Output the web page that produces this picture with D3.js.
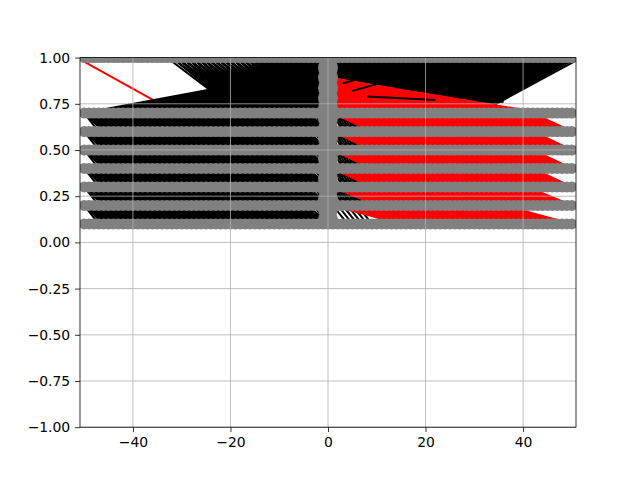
<!DOCTYPE html>
<html lang="en">
<head>
<meta charset="utf-8">
<title>Links</title>
<script src="https://d3js.org/d3.v7.min.js"></script>
<style>
  body, html { margin: 0; padding: 0; background: white; }
  svg { display: block; }
  .tick text { font-family: "DejaVu Sans", sans-serif; font-size: 13.9px; fill: black; }
  .grid line { stroke: #b0b0b0; stroke-width: 0.8px; }
</style>
</head>
<body>
<svg id="chart" width="640" height="480"></svg>
<script>
// grey node rows, x positions shared by every row
var rowX = [-50, -49, -48, -47, -46, -45, -44, -43, -42, -41, -40, -39, -38, -37, -36, -35, -34,
    -33, -32, -31, -30, -29, -28, -27, -26, -25, -24, -23, -22, -21, -20, -19, -18, -17, -16, -15,
    -14, -13, -12, -11, -10, -9, -8, -7, -6, -5, -4, -3, -2, -1, 0, 1, 2, 3, 4, 5, 6, 7, 8, 9, 10,
    11, 12, 13, 14, 15, 16, 17, 18, 19, 20, 21, 22, 23, 24, 25, 26, 27, 28, 29, 30, 31, 32, 33, 34,
    35, 36, 37, 38, 39, 40, 41, 42, 43, 44, 45, 46, 47, 48, 49, 50];
var rowY = [0.1, 0.2, 0.3, 0.4, 0.5, 0.6, 0.7, 1.0];
// big nodes stacked on x = 0
var columnX = 0;
var columnY = [0.125, 0.18, 0.234, 0.289, 0.344, 0.398, 0.453, 0.508, 0.563, 0.617, 0.672,
    0.727, 0.781, 0.836, 0.891, 0.945, 1.0];

// links between neighbouring rows (upper-row x -> lower-row x + offset)
var bands = [[0.1, 0.2], [0.2, 0.3], [0.3, 0.4], [0.4, 0.5], [0.5, 0.6], [0.6, 0.7]];
var leftSpan = [-50, -3];
var leftOffsets = [3, 4, 5, 6];
var rightBlackSpan = [[1, 6], [1, 8], [1, 8], [1, 8], [1, 8], [1, 8]];
var rightBlackOffsets = [[3], [1, 2, 3], [1, 2, 3], [1, 2, 3], [1, 2, 3], [1, 2, 3]];
var rightRedSpan = [1, 50];
var rightRedOffsets = [[14, 15, 16, 17, 18], [9, 10, 11, 12], [8, 9, 10, 11, 12],
    [8, 9, 10, 11, 12], [8, 9, 10, 11, 12], [8, 9, 10, 11, 12]];

// links in the top band (row 0.7 <-> row 1.0 and the x = 0 column)
var topFanY = [0.781, 0.836, 0.891, 0.945];
var topFanSpan = [-50, -1];
var topRiseSpan = [-30, 31];
var topRiseOffsets = [17, 18, 19, 20, 21];
var topBackSpan = [-18, 0];
var topBackOffsets = [13, 14, 15];
var topRedY = [0.727, 0.781, 0.836, 0.891];
var topRedSpan = [3, 44];
var topStripes = [[3, 0.86, 12, 0.93], [5, 0.82, 16, 0.9], [14, 0.84, 28, 0.79],
    [18, 0.87, 30, 0.82], [8, 0.79, 22, 0.77], [24, 0.8, 36, 0.76]];
var strayRed = [[-51.5, 1.0, -31, 0.7]];

var xTicks = [-40, -20, 0, 20, 40];
var yTicks = [-1, -0.75, -0.5, -0.25, 0, 0.25, 0.5, 0.75, 1];

var padLeft = 80, padTop = 57.6, plotW = 496, plotH = 369.6;
var svg = d3.select("#chart");

var x = d3.scaleLinear().domain([-50.85, 50.85]).range([padLeft, padLeft + plotW]);
var y = d3.scaleLinear().domain([-1, 1]).range([padTop + plotH, padTop]);

svg.append("defs").append("clipPath").attr("id", "plot")
    .append("rect")
    .attr("x", padLeft).attr("y", padTop)
    .attr("width", plotW).attr("height", plotH);

function inSpan(span) {
    return rowX.filter(function(v) { return v >= span[0] && v <= span[1]; });
}

// build the segment lists
var blackLinks = [], redLinks = [], overLinks = [];

bands.forEach(function(b, i) {
    inSpan(leftSpan).forEach(function(x0) {
        leftOffsets.forEach(function(d) {
            if (x0 + d <= 0) blackLinks.push([x0, b[1], x0 + d, b[0]]);
        });
    });
    inSpan(rightBlackSpan[i]).forEach(function(x0) {
        rightBlackOffsets[i].forEach(function(d) {
            blackLinks.push([x0, b[1], x0 + d, b[0]]);
        });
    });
    inSpan(rightRedSpan).forEach(function(x0) {
        rightRedOffsets[i].forEach(function(d) {
            if (x0 + d <= 50) redLinks.push([x0, b[1], x0 + d, b[0]]);
        });
    });
});

var topLow = rowY[6], topHigh = rowY[7];
topFanY.forEach(function(cy) {
    inSpan(topFanSpan).forEach(function(x0) {
        blackLinks.push([columnX, cy, x0, topLow]);
    });
});
inSpan(topRiseSpan).forEach(function(x0) {
    topRiseOffsets.forEach(function(d) {
        blackLinks.push([x0, topLow, x0 + d, topHigh]);
    });
});
inSpan(topBackSpan).forEach(function(x0) {
    topBackOffsets.forEach(function(d) {
        blackLinks.push([x0, topLow, x0 - d, topHigh]);
    });
});
topRedY.forEach(function(cy) {
    inSpan(topRedSpan).forEach(function(x0) {
        redLinks.push([columnX, cy, x0, topLow]);
    });
});
topStripes.forEach(function(s) { overLinks.push(s); });

var plot = svg.append("g").attr("clip-path", "url(#plot)");

function drawLinks(data, colour) {
    plot.append("g")
        .selectAll("line")
        .data(data)
        .enter()
        .append("line")
        .attr("x1", function(d) { return x(d[0]); })
        .attr("y1", function(d) { return y(d[1]); })
        .attr("x2", function(d) { return x(d[2]); })
        .attr("y2", function(d) { return y(d[3]); })
        .attr("stroke", colour)
        .attr("stroke-width", 2);
}

drawLinks(strayRed, "#ff0000");
drawLinks(blackLinks, "#000000");
drawLinks(redLinks, "#ff0000");
drawLinks(overLinks, "#000000");

// grey nodes
var nodes = [];
rowY.forEach(function(ry) {
    rowX.forEach(function(rx) { nodes.push([rx, ry]); });
});
plot.append("g")
    .selectAll("circle")
    .data(nodes)
    .enter()
    .append("circle")
    .attr("cx", function(d) { return x(d[0]); })
    .attr("cy", function(d) { return y(d[1]); })
    .attr("r", 5.5)
    .attr("fill", "#808080");

plot.append("g")
    .selectAll("circle")
    .data(columnY)
    .enter()
    .append("circle")
    .attr("cx", x(columnX))
    .attr("cy", function(d) { return y(d); })
    .attr("r", 10)
    .attr("fill", "#808080");

// grid on top, like the reference
var grid = svg.append("g").attr("class", "grid");
grid.selectAll("line.v")
    .data(xTicks)
    .enter()
    .append("line")
    .attr("class", "v")
    .attr("x1", function(d) { return x(d); })
    .attr("x2", function(d) { return x(d); })
    .attr("y1", padTop)
    .attr("y2", padTop + plotH);
grid.selectAll("line.h")
    .data(yTicks)
    .enter()
    .append("line")
    .attr("class", "h")
    .attr("x1", padLeft)
    .attr("x2", padLeft + plotW)
    .attr("y1", function(d) { return y(d); })
    .attr("y2", function(d) { return y(d); });

// axes
var minus = function(s) { return s.replace("-", "\u2212"); };
var xAxis = d3.axisBottom(x).tickValues(xTicks).tickSizeOuter(0).tickSize(4.9).tickPadding(4.9)
    .tickFormat(function(d) { return minus(d3.format("d")(d)); });
var yAxis = d3.axisLeft(y).tickValues(yTicks).tickSizeOuter(0).tickSize(4.9).tickPadding(4.9)
    .tickFormat(function(d) { return minus(d3.format(".2f")(d)); });

var gx = svg.append("g").attr("transform", "translate(0," + (padTop + plotH) + ")").call(xAxis);
var gy = svg.append("g").attr("transform", "translate(" + padLeft + ",0)").call(yAxis);
[gx, gy].forEach(function(g) {
    g.select(".domain").remove();
    g.selectAll(".tick line").attr("stroke", "black").attr("stroke-width", 0.8);
});

svg.append("rect")
    .attr("x", padLeft).attr("y", padTop)
    .attr("width", plotW).attr("height", plotH)
    .attr("fill", "none")
    .attr("stroke", "black")
    .attr("stroke-width", 0.8);
</script>
</body>
</html>
